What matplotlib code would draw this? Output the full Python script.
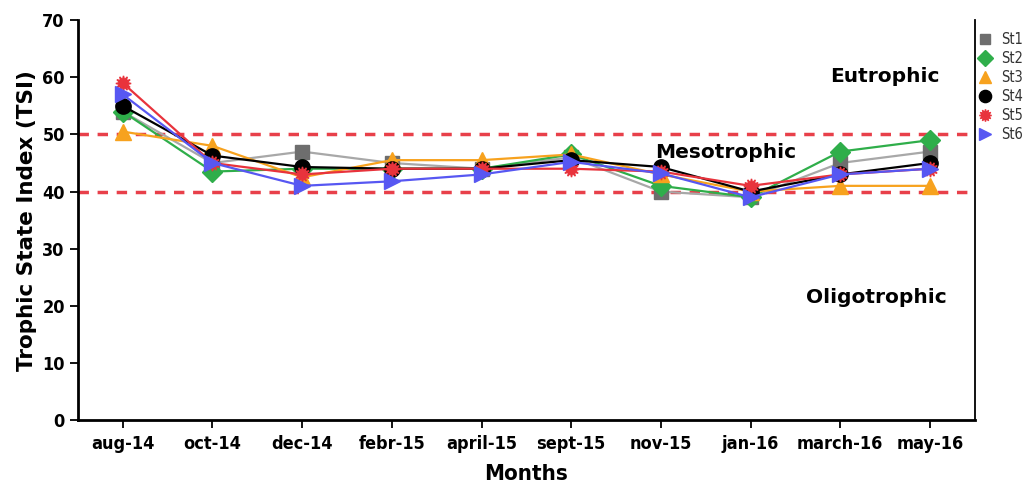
import matplotlib.pyplot as plt

months = ["aug-14", "oct-14", "dec-14", "febr-15", "april-15", "sept-15",
          "nov-15", "jan-16", "march-16", "may-16"]

st1 = [54, 45, 47, 45, 44, 46, 40, 39, 45, 47]
st2 = [54, 43.5, 44, 44, 44, 46.5, 41, 39, 47, 49]
st3 = [50.5, 48, 42.5, 45.5, 45.5, 46.5, 43, 40, 41, 41]
st4 = [55, 46.3, 44.3, 44, 44, 45.5, 44.3, 40, 43, 45]
st5 = [59, 45, 43, 44, 44, 44, 43.5, 41, 43, 44]
st6 = [57, 45, 41, 41.8, 43, 45.2, 43.2, 39, 43, 44]

series = [
    ("St1", st1, "#a8a8a8", "#6e6e6e", "s", 9.5),
    ("St2", st2, "#2fae4a", "#2fae4a", "D", 10),
    ("St3", st3, "#f7a21e", "#f7a21e", "^", 11),
    ("St4", st4, "#000000", "#000000", "o", 11),
    ("St5", st5, "#e8333c", "#e8333c", (12, 1, 0), 11),
    ("St6", st6, "#5757f2", "#5757f2", ">", 11),
]

plt.rcParams['font.family'] = ['DejaVu Sans']

fig = plt.figure(figsize=(10.26, 4.93), dpi=100)
ax = fig.add_axes([0.076, 0.148, 0.874, 0.811])

x = list(range(len(months)))
for name, vals, lc, mc, mk, ms in series:
    ax.plot(x, vals, color=lc, linewidth=1.6, marker=mk, markersize=ms,
            markerfacecolor=mc, markeredgecolor=mc, label=name)

ax.axhline(50, color="#e8404a", linestyle=(0, (3, 2.5)), linewidth=2.5, zorder=1)
ax.axhline(40, color="#e8404a", linestyle=(0, (3, 2.5)), linewidth=2.5, zorder=1)

ax.text(8.5, 60.2, "Eutrophic", fontsize=14.5, fontweight="bold", ha="center", va="center")
ax.text(6.72, 46.9, "Mesotrophic", fontsize=14.5, fontweight="bold", ha="center", va="center")
ax.text(8.4, 21.4, "Oligotrophic", fontsize=14.5, fontweight="bold", ha="center", va="center")

ax.set_xlim(-0.5, 9.5)
ax.set_ylim(0, 70)
ax.set_yticks(range(0, 71, 10))
ax.set_xticks(x)
ax.set_xticklabels(months)
ax.tick_params(axis="both", labelsize=13, direction="out", length=6, width=1.3)
for lbl in ax.get_xticklabels() + ax.get_yticklabels():
    lbl.set_fontweight("bold")
    lbl.set_fontstretch("condensed")
ax.tick_params(axis="x", pad=5)

for s in ax.spines.values():
    s.set_linewidth(1.3)
ax.spines["left"].set_linewidth(2)
ax.spines["bottom"].set_linewidth(2)
ax.spines["top"].set_visible(False)

ax.set_xlabel("Months", fontsize=16, fontweight="bold", fontstretch="condensed", labelpad=8)
ax.set_ylabel("Trophic State Index (TSI)", fontsize=15.5, fontweight="bold")

ax.legend(loc="upper left", bbox_to_anchor=(0.995, 0.985), frameon=False, fontsize=10.5,
          handlelength=1.2, handletextpad=0.5, labelspacing=0.28, markerscale=0.8,
          borderaxespad=0)
leg = ax.get_legend()
for line in leg.get_lines():
    line.set_linestyle("none")
for t in leg.get_texts():
    t.set_color("#333333")
    t.set_fontstretch("condensed")

fig.savefig("out.png", dpi=100)
